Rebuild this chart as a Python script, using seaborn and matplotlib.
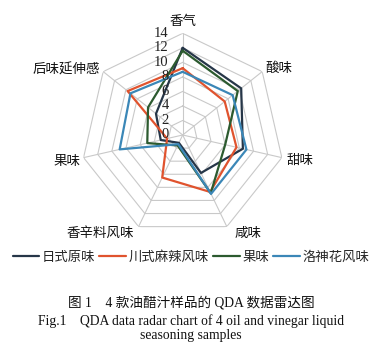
import numpy as np
import pandas as pd
import matplotlib
matplotlib.use("Agg")
import matplotlib.pyplot as plt
import seaborn as sns

categories = ['香气', '酸味', '甜味', '咸味', '香辛料风味', '果味', '后味延伸感']
series_names = ['日式原味', '川式麻辣风味', '果味', '洛神花风味']
japanese = [12.0, 10.3, 8.5, 5.8, 1.2, 3.1, 4.7]
sichuan = [9.2, 7.4, 7.6, 8.7, 6.5, 2.2, 9.7]
fruit = [11.6, 9.7, 6.0, 8.9, 1.6, 5.0, 6.1]
roselle = [8.7, 8.8, 9.0, 9.0, 1.4, 8.9, 9.2]
r_ticks = [0, 2, 4, 6, 8, 10, 12, 14]
colors = ['#263648', '#e0532e', '#2c5a2f', '#3b87b7']

sns.set_style('white')
plt.rcParams['font.family'] = ['Noto Sans CJK SC', 'DejaVu Sans']
serif = ['Liberation Serif', 'Noto Sans CJK SC']
cjk = ['Noto Sans CJK SC', 'DejaVu Sans']

fig = plt.figure(figsize=(3.82, 3.57), dpi=100)
ax = fig.add_axes([0.212, 0.337, 0.5325, 0.5697], projection='polar')
ax.set_theta_zero_location('N')
ax.set_theta_direction(-1)
ax.patch.set_alpha(0)
ax.spines['polar'].set_visible(False)
ax.grid(False)

n = len(categories)
angles = list(np.linspace(0, 2 * np.pi, n, endpoint=False))
closed = angles + [2 * np.pi]

grid_c = '#c9c9c9'
for r in r_ticks[1:]:
    ax.plot(closed, [r] * (n + 1), color=grid_c, lw=0.8, zorder=1)
for a in angles:
    ax.plot([a, a], [0, r_ticks[-1]], color=grid_c, lw=0.8, zorder=1)

rows = []
for name, vals in zip(series_names, [japanese, sichuan, fruit, roselle]):
    vv = list(vals) + [vals[0]]
    for t, v in zip(closed, vv):
        rows.append({'theta': t, 'value': v, 'sample': name})
df = pd.DataFrame(rows)

for name, c in zip(series_names, colors):
    sub = df[df['sample'] == name]
    sns.lineplot(data=sub, x='theta', y='value', sort=False, color=c,
                 lw=1.9, label=name, ax=ax, zorder=3)

ax.set_ylim(0, 14)
ax.set_xticks([])
ax.set_yticks([])
ax.set_xlabel('')
ax.set_ylabel('')

for v in r_ticks:
    ax.annotate(str(v), xy=(0, v), xytext=(-14, 0), textcoords='offset pixels',
                ha='right', va='center', fontsize=10.5, family=serif, color='#222222')

label_off = [(0, 12.6, 'center'), (3, 3.4, 'left'), (5, -2.3, 'left'),
             (8, -6.0, 'left'), (-5, -6.0, 'right'), (-3, -3, 'right'),
             (-3, 1.7, 'right')]
for a, cat, (dx, dy, ha) in zip(angles, categories, label_off):
    ax.annotate(cat, xy=(a, 14), xytext=(dx, dy), textcoords='offset pixels',
                ha=ha, va='center', fontsize=9.7, family=cjk, color='#111111')

handles, labels = ax.get_legend_handles_labels()
if ax.get_legend() is not None:
    ax.get_legend().remove()
for h in handles:
    h.set_linewidth(1.6)
leg = fig.legend(handles, labels, loc='center', bbox_to_anchor=(0.5, 0.281),
                 ncol=4, frameon=False, handlelength=2.0, handletextpad=0.2,
                 columnspacing=0.3, prop={'family': cjk, 'size': 9.6})

fig.text(0.5, 1 - 303 / 357, '图 1　4 款油醋汁样品的 QDA 数据雷达图', ha='center',
         va='center', fontsize=9.8, family=serif, color='#111111')
fig.text(0.5, 1 - 321 / 357, 'Fig.1    QDA data radar chart of 4 oil and vinegar liquid',
         ha='center', va='center', fontsize=9.8, family=serif, color='#111111')
fig.text(0.5, 1 - 336 / 357, 'seasoning samples', ha='center', va='center',
         fontsize=9.8, family=serif, color='#111111')

fig.savefig('out.png', dpi=100, facecolor='white')
